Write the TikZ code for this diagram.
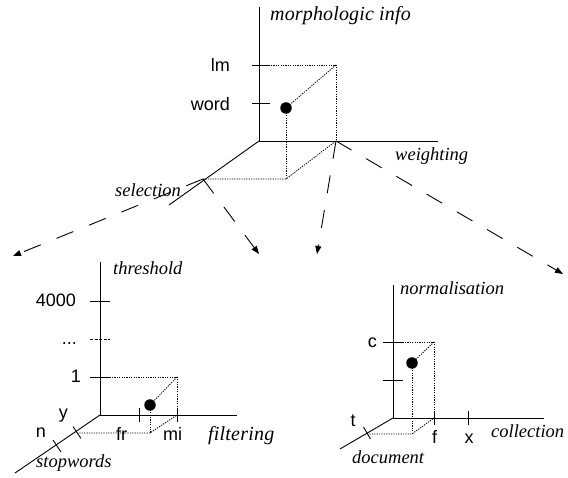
\documentclass[tikz,border=0pt]{standalone}
\usepackage{fontspec}
\setmainfont{Liberation Serif}
\setsansfont{Liberation Sans}
\usetikzlibrary{arrows.meta}
\begin{document}
\begin{tikzpicture}[x=1pt,y=-1pt,
  axis/.style={line width=0.9pt},
  tickln/.style={line width=0.9pt},
  dotln/.style={line width=0.85pt,dash pattern=on 1.2pt off 1.2pt},
  longdash/.style={line width=0.9pt,dash pattern=on 18pt off 17pt,-{Triangle[length=8pt,width=6pt]}},
  dimlab/.style={font=\fontsize{18.5}{20}\selectfont\itshape,inner sep=0pt},
  vallab/.style={font=\fontsize{18}{20}\selectfont\sffamily,inner sep=0pt},
  pt/.style={circle,fill=black,inner sep=0pt,minimum size=11.5pt}]
\useasboundingbox (0,0) rectangle (568,478);
% ---------------- top diagram ----------------
\coordinate (O1) at (259,141);
\coordinate (O1up) at (259,7);
\coordinate (O1rt) at (438,141);
\coordinate (O1dl) at (169,205);
\coordinate (sel) at (203,179);
\coordinate (wgt) at (336,141);
\coordinate (lmA) at (252,65);
\coordinate (lmB) at (270,65);
\coordinate (wdA) at (252,103);
\coordinate (wdB) at (270,103);
\coordinate (lmC) at (259,65);
\coordinate (cor1) at (336,65);
\coordinate (bot1) at (286,179);
\draw[axis] (O1up) -- (O1) -- (O1rt);
\draw[axis] (O1) -- (O1dl);
\draw[tickln] (lmA) -- (lmB);
\draw[tickln] (wdA) -- (wdB);
\draw[dotln] (lmC) -- (cor1) -- (wgt);
\draw[dotln] (sel) -- (bot1) -- (wgt);
\node[pt] (p1) at (286,108) {};
\draw[dotln] (cor1) -- (p1.center);
\draw[dotln] (p1.center) -- (bot1);
\node[dimlab,anchor=base west,font=\fontsize{20}{22}\selectfont\itshape\addfontfeature{LetterSpace=0.8}] (morph) at (270,21) {morphologic info};
\node[vallab,anchor=base east] (lm) at (230,72) {lm};
\node[vallab,anchor=base east] (word) at (230,111) {word};
\node[dimlab,anchor=base west] (weight) at (395,161) {weighting};
\node[dimlab,anchor=base west] (selec) at (115,197) {selection};
% dashed arrows
\coordinate (a1) at (13,256);
\coordinate (a2) at (259,254);
\coordinate (a3) at (317,254);
\coordinate (a4) at (563,274);
\draw[longdash] (sel) -- (a1);
\draw[longdash] (sel) -- (a2);
\draw[longdash] (wgt) -- (a3);
\draw[longdash] (wgt) -- (a4);
% ---------------- lower-left diagram ----------------
\coordinate (O2) at (100,415);
\coordinate (O2up) at (100,262);
\coordinate (O2rt) at (237,415);
\coordinate (O2dl) at (15,473);
\draw[axis] (O2up) -- (O2) -- (O2rt);
\draw[axis] (O2) -- (O2dl);
\draw[tickln] (90,301) -- (110,301);
\draw[tickln,dash pattern=on 3pt off 1.5pt] (90,339) -- (110,339);
\draw[tickln] (90,377) -- (110,377);
\coordinate (oneT) at (100,377);
\coordinate (cor2) at (177,377);
\coordinate (miT) at (177,415);
\coordinate (yT) at (77,433);
\coordinate (bot2) at (150,433);
\draw[tickln] (139.5,408) -- (139.5,422);
\draw[tickln] (177,408) -- (177,422);
\draw[tickln] (73,426.5) -- (81,438.5);
\draw[tickln] (53,440) -- (61,452);
\draw[dotln] (oneT) -- (cor2) -- (miT);
\draw[dotln] (yT) -- (bot2) -- (miT);
\node[pt] (p2) at (150,405) {};
\draw[dotln] (cor2) -- (p2.center);
\draw[dotln] (p2.center) -- (bot2);
\node[dimlab,anchor=base west] (thr) at (113,275) {threshold};
\node[vallab,anchor=base east] (v4000) at (76,307) {4000};
\node[vallab,anchor=base east] (vdots) at (77,345) {...};
\node[vallab,anchor=base east] (v1) at (81,383) {1};
\node[vallab,anchor=base east] (vy) at (68,418) {y};
\node[vallab,anchor=base east] (vn) at (46,438) {n};
\node[vallab,anchor=base west] (vfr) at (116,440) {fr};
\node[vallab,anchor=base west] (vmi) at (163,440) {mi};
\node[dimlab,anchor=base west,font=\fontsize{20}{22}\selectfont\itshape\addfontfeature{LetterSpace=1}] (filt) at (208,441) {filtering};
\node[dimlab,anchor=base west] (stop) at (36,467) {stopwords};
% ---------------- lower-right diagram ----------------
\coordinate (O3) at (393,418);
\coordinate (O3up) at (393,285);
\coordinate (O3rt) at (544,418);
\coordinate (O3dl) at (340,449);
\draw[axis] (O3up) -- (O3) -- (O3rt);
\draw[axis] (O3) -- (O3dl);
\draw[tickln] (383,342) -- (403,342);
\draw[tickln] (383,380) -- (403,380);
\draw[tickln] (434,411) -- (434,425);
\draw[tickln] (468,411) -- (468,425);
\draw[tickln] (363.5,427) -- (370.5,439);
\coordinate (cT) at (393,342);
\coordinate (cor3) at (434,342);
\coordinate (fT) at (434,418);
\coordinate (tT) at (367,434);
\coordinate (bot3) at (412,434);
\draw[dotln] (cT) -- (cor3) -- (fT);
\draw[dotln] (tT) -- (bot3) -- (fT);
\node[pt] (p3) at (412,363) {};
\draw[dotln] (cor3) -- (p3.center);
\draw[dotln] (p3.center) -- (bot3);
\node[dimlab,anchor=base west] (norm) at (400,295) {normalisation};
\node[vallab,anchor=base east] (vc) at (377,348) {c};
\node[vallab,anchor=base] (vf) at (434.5,443) {f};
\node[vallab,anchor=base] (vx) at (469,443) {x};
\node[dimlab,anchor=base west] (coll) at (491,438) {collection};
\node[dimlab,anchor=base west] (docu) at (352,463) {document};
\node[vallab,anchor=base] (vt) at (353,427) {t};
\end{tikzpicture}
\end{document}
